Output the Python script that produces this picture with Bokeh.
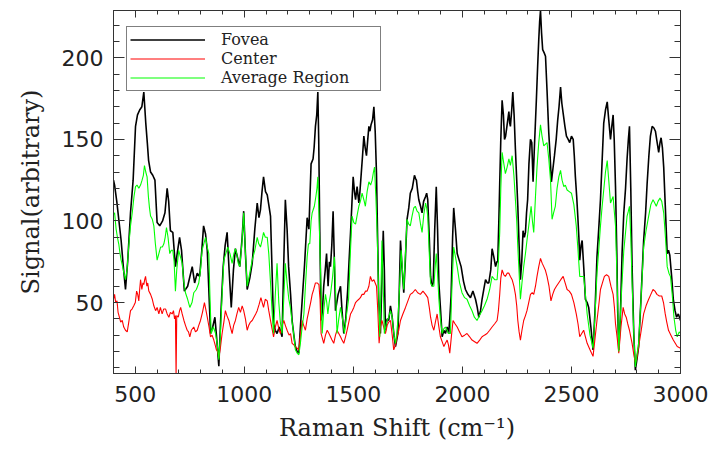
from bokeh.plotting import figure
from bokeh.models import Legend, LegendItem, LinearAxis, FixedTicker, Range1d, CustomLabelingPolicy
from bokeh.embed import file_html
from bokeh.resources import INLINE

# ---------------- data ----------------
fovea_x = [400, 405, 415, 425, 435, 445, 455, 465, 478, 490, 501, 510, 520, 530, 539, 548, 555, 561, 570, 580,
           590, 600, 612, 625, 636, 646, 653, 661, 672, 684, 692, 703, 712, 725, 740, 761, 772, 784, 795, 805,
           813, 822, 830, 845, 855, 865, 872, 883, 893, 903, 912, 921, 930, 940, 950, 959, 968, 979, 990, 997,
           1005, 1013, 1025, 1036, 1048, 1059, 1067, 1074, 1081, 1088, 1097, 1105, 1112, 1120, 1127, 1134, 1142,
           1150, 1160, 1173, 1180, 1188, 1196, 1203, 1212, 1219, 1227, 1234, 1242, 1250, 1257, 1265, 1276, 1288,
           1296, 1306, 1315, 1320, 1326, 1332, 1337, 1341, 1346, 1352, 1358, 1364, 1371, 1377, 1384, 1390, 1395,
           1401, 1407, 1412, 1418, 1430, 1441, 1448, 1456, 1465, 1474, 1480, 1487, 1493, 1499, 1505, 1510, 1517,
           1525, 1530, 1536, 1542, 1548, 1554, 1560, 1566, 1571, 1576, 1581, 1588, 1594, 1600, 1606, 1611, 1616,
           1624, 1630, 1637, 1642, 1647, 1655, 1662, 1670, 1678, 1686, 1693, 1704, 1710, 1716, 1723, 1731, 1738,
           1746, 1754, 1761, 1770, 1780, 1785, 1789, 1795, 1800, 1808, 1815, 1822, 1831, 1836, 1841, 1848, 1854,
           1860, 1866, 1873, 1880, 1886, 1892, 1900, 1907, 1915, 1922, 1930, 1937, 1942, 1948, 1955, 1960, 1968,
           1976, 1985, 1994, 2005, 2014, 2025, 2037, 2048, 2060, 2068, 2075, 2083, 2090, 2098, 2106, 2114, 2121,
           2130, 2136, 2144, 2152, 2158, 2162, 2167, 2171, 2176, 2182, 2188, 2193, 2198, 2202, 2208, 2213, 2217,
           2220, 2226, 2231, 2237, 2243, 2249, 2254, 2260, 2266, 2272, 2278, 2284, 2289, 2294, 2299, 2305, 2312,
           2318, 2324, 2330, 2339, 2345, 2350, 2354, 2358, 2363, 2368, 2375, 2381, 2388, 2396, 2402, 2408, 2415,
           2422, 2430, 2437, 2443, 2450, 2456, 2462, 2470, 2477, 2485, 2492, 2500, 2508, 2513, 2518, 2524, 2529,
           2534, 2538, 2544, 2549, 2557, 2564, 2572, 2579, 2589, 2599, 2608, 2617, 2625, 2633, 2640, 2648, 2656,
           2664, 2671, 2679, 2685, 2691, 2696, 2702, 2708, 2712, 2717, 2724, 2732, 2740, 2748, 2755, 2761, 2766,
           2772, 2778, 2786, 2793, 2800, 2808, 2818, 2831, 2840, 2847, 2855, 2862, 2870, 2878, 2885, 2893, 2900,
           2906, 2911, 2917, 2923, 2930, 2939, 2945, 2951, 2960, 2967, 2975, 2982, 2990, 3000]
fovea_y = [125, 122, 112, 100, 88, 72, 58, 75, 105, 125, 158, 165, 168, 170, 179, 160, 148, 137, 130, 128,
           125, 99, 97, 100, 105, 120, 112, 94, 93, 72, 80, 90, 82, 57, 60, 72, 62, 68, 66, 82,
           97, 92, 82, 31, 35, 41, 30, 11, 45, 72, 85, 93, 70, 47, 70, 83, 78, 72, 90, 106,
           80, 58, 65, 74, 95, 111, 102, 107, 118, 127, 118, 116, 110, 103, 70, 37, 33,
           31, 35, 29, 70, 113, 95, 72, 55, 39, 30, 23, 20, 19, 35, 51, 73, 102,
           95, 135, 138, 145, 158, 165, 179, 150, 93, 39, 45, 60, 70, 80, 60, 75, 72,
           85, 106, 80, 45, 55, 60, 45, 31, 40, 58, 75, 93, 110, 127, 118, 113, 121,
           111, 118, 129, 140, 152, 145, 140, 150, 158, 155, 159, 162, 170, 155, 129, 90, 52,
           31, 60, 94, 70, 33, 40, 39, 48, 41, 30, 23, 31, 55, 88, 72, 56, 75,
           101, 108, 117, 120, 128, 126, 125, 118, 113, 109, 105, 112, 115, 117, 113, 90, 66,
           60, 62, 95, 121, 95, 62, 45, 29, 33, 31, 35, 31, 40, 54, 90, 108, 95,
           80, 76, 72, 63, 58, 55, 53, 57, 52, 47, 41, 45, 52, 58, 64, 62, 62,
           70, 83, 78, 72, 75, 75, 100, 123, 150, 174, 165, 150, 152, 156, 162, 167, 160,
           158, 168, 179, 165, 144, 125, 109, 85, 64, 75, 94, 90, 93, 105, 113, 135, 150,
           148, 124, 145, 174, 195, 211, 222, 229, 215, 205, 203, 201, 180, 154, 140, 124, 132,
           140, 150, 162, 170, 182, 172, 166, 158, 152, 150, 148, 152, 150, 140, 127, 115, 103,
           90, 76, 85, 88, 70, 52, 50, 47, 35, 21, 45, 78, 95, 113, 135, 160, 168,
           173, 162, 150, 158, 165, 150, 121, 80, 45, 21, 40, 80, 105, 120, 138, 150, 158,
           120, 72, 30, 8.5, 15, 23, 50, 88, 105, 123, 140, 152, 158, 157, 155, 148, 142,
           148, 151, 145, 133, 110, 80, 82, 79, 65, 52, 45, 41, 43, 39]

center_x = [400, 405, 410, 416, 421, 427, 433, 440, 447, 455, 463, 470, 478, 485, 493, 500, 506, 511, 516, 520,
            524, 530, 535, 539, 543, 547, 553, 557, 562, 570, 578, 585, 593, 600, 608, 615, 623, 630, 639, 646,
            654, 661, 669, 675, 680, 684, 687, 690, 697, 703, 708, 715, 723, 730, 738, 744, 750, 757, 768, 776,
            784, 791, 799, 808, 817, 823, 830, 838, 845, 852, 860, 866, 872, 878, 883, 890, 898, 906, 913, 920,
            929, 936, 944, 951, 959, 966, 974, 982, 990, 997, 1005, 1013, 1020, 1028, 1036, 1044, 1052, 1059,
            1068, 1076, 1082, 1088, 1096, 1105, 1112, 1120, 1127, 1134, 1142, 1150, 1158, 1165, 1173, 1181, 1188,
            1196, 1205, 1212, 1219, 1227, 1234, 1242, 1250, 1257, 1265, 1272, 1280, 1288, 1296, 1304, 1311, 1318,
            1326, 1334, 1342, 1347, 1352, 1358, 1364, 1372, 1380, 1388, 1395, 1402, 1410, 1418, 1425, 1433, 1441,
            1448, 1456, 1464, 1471, 1479, 1487, 1495, 1502, 1510, 1517, 1525, 1532, 1540, 1548, 1556, 1563, 1571,
            1578, 1586, 1594, 1600, 1606, 1612, 1618, 1624, 1631, 1639, 1647, 1655, 1662, 1670, 1678, 1685, 1693,
            1700, 1708, 1716, 1727, 1739, 1750, 1761, 1772, 1784, 1795, 1807, 1819, 1831, 1841, 1848, 1854, 1861,
            1869, 1876, 1884, 1891, 1899, 1907, 1915, 1922, 1930, 1936, 1942, 1950, 1957, 1966, 1976, 1987, 1998,
            2010, 2021, 2033, 2044, 2056, 2067, 2079, 2090, 2101, 2113, 2125, 2136, 2148, 2159, 2165, 2171, 2176,
            2182, 2190, 2197, 2205, 2213, 2220, 2228, 2236, 2243, 2249, 2254, 2260, 2266, 2273, 2281, 2289, 2296,
            2304, 2312, 2320, 2327, 2335, 2342, 2350, 2358, 2366, 2373, 2380, 2388, 2397, 2406, 2414, 2422, 2431,
            2441, 2451, 2462, 2471, 2480, 2490, 2500, 2511, 2522, 2530, 2538, 2547, 2556, 2564, 2572, 2585, 2599,
            2608, 2617, 2625, 2633, 2642, 2651, 2661, 2671, 2681, 2691, 2697, 2702, 2710, 2717, 2727, 2737, 2744,
            2751, 2758, 2766, 2772, 2778, 2786, 2793, 2800, 2808, 2820, 2831, 2842, 2854, 2864, 2874, 2883, 2892,
            2903, 2914, 2922, 2930, 2937, 2945, 2956, 2967, 2976, 2985, 3000]
center_y = [52, 55, 50, 51, 44, 41, 38, 39, 35, 33, 32, 38, 45, 46, 48, 50, 57, 55, 51, 58,
            64, 58, 62, 61, 64, 66, 60, 62, 57, 55, 52, 48, 45, 47, 43, 47, 43, 46, 46, 43,
            41, 44, 43, 45, 40, 42, 5, 42, 41, 45, 47, 43, 39, 36, 33, 32, 29, 33, 35, 32,
            33, 36, 39, 44, 50, 46, 41, 35, 29, 30, 27, 24, 21, 20, 16, 22, 31, 38, 45, 42,
            39, 35, 31, 36, 39, 43, 47, 44, 48, 45, 40, 33, 36, 38, 39, 41, 43, 45,
            49, 53, 50, 47, 52, 51, 45, 39, 34, 29, 35, 39, 34, 31, 36, 39, 36,
            33, 30, 31, 25, 24, 23, 22, 21, 30, 39, 36, 33, 40, 45, 50, 55, 58,
            62, 62, 61, 52, 31, 28, 25, 30, 33, 31, 29, 27, 25, 30, 33, 31, 29,
            27, 25, 29, 33, 38, 43, 45, 47, 50, 51, 52, 53, 55, 55, 57, 57, 60,
            66, 63, 64, 62, 60, 45, 25, 35, 39, 35, 31, 36, 38, 39, 30, 21, 24,
            29, 33, 39, 43, 47, 51, 55, 56, 58, 56, 55, 57, 55, 53, 47, 41, 36,
            33, 38, 43, 36, 29, 26, 23, 25, 27, 24, 19, 30, 39, 37, 35, 32, 29,
            30, 31, 29, 27, 26, 25, 27, 29, 30, 31, 33, 35, 37, 39, 45, 55, 65,
            70, 67, 66, 68, 68, 66, 64, 60, 55, 48, 39, 32, 27, 33, 39, 42, 45,
            50, 55, 56, 55, 60, 66, 72, 77, 74, 72, 70, 66, 60, 51, 55, 58, 60,
            62, 64, 66, 62, 58, 57, 55, 50, 43, 37, 29, 31, 33, 29, 25, 21, 17,
            28, 39, 48, 58, 62, 66, 67, 66, 60, 55, 47, 37, 28, 19, 35, 47, 43,
            41, 37, 33, 29, 25, 18, 13, 16, 23, 33, 43, 48, 52, 55, 58, 57, 55,
            54, 54, 50, 43, 38, 33, 30, 27, 25, 23, 22]

average_x = [400, 405, 412, 418, 424, 430, 435, 442, 448, 455, 462, 470, 478, 486, 494, 501, 508, 516, 524, 531,
             537, 542, 548, 554, 560, 565, 570, 578, 585, 592, 600, 608, 616, 624, 631, 637, 643, 650, 658, 665,
             672, 678, 684, 690, 699, 707, 715, 722, 730, 740, 750, 760, 768, 780, 791, 799, 806, 814, 822, 830,
             837, 842, 848, 858, 868, 876, 883, 890, 898, 906, 915, 924, 934, 944, 952, 959, 965, 972, 979, 988,
             997, 1005, 1013, 1025, 1036, 1048, 1059, 1066, 1074, 1081, 1088, 1096, 1105, 1112, 1120, 1127, 1134,
             1142, 1150, 1158, 1165, 1173, 1180, 1188, 1196, 1204, 1211, 1219, 1227, 1234, 1242, 1250, 1257, 1265,
             1273, 1280, 1288, 1294, 1300, 1306, 1311, 1316, 1321, 1328, 1333, 1337, 1343, 1349, 1357, 1364, 1372,
             1378, 1383, 1389, 1395, 1404, 1413, 1419, 1425, 1433, 1441, 1450, 1459, 1468, 1478, 1486, 1494, 1502,
             1510, 1518, 1525, 1532, 1540, 1548, 1555, 1563, 1571, 1579, 1586, 1592, 1597, 1603, 1609, 1615, 1621,
             1626, 1631, 1637, 1642, 1652, 1662, 1670, 1678, 1686, 1693, 1698, 1704, 1712, 1719, 1725, 1731, 1738,
             1746, 1754, 1761, 1769, 1777, 1784, 1792, 1800, 1808, 1815, 1823, 1831, 1836, 1841, 1848, 1854, 1862,
             1869, 1874, 1880, 1886, 1892, 1899, 1907, 1915, 1922, 1930, 1937, 1945, 1952, 1960, 1968, 1976, 1987,
             1998, 2010, 2021, 2033, 2044, 2055, 2067, 2078, 2090, 2101, 2113, 2125, 2136, 2148, 2159, 2165, 2171,
             2176, 2182, 2190, 2197, 2205, 2213, 2220, 2228, 2236, 2243, 2249, 2254, 2260, 2266, 2273, 2281, 2289,
             2296, 2305, 2315, 2321, 2327, 2335, 2342, 2350, 2358, 2365, 2373, 2380, 2388, 2396, 2404, 2411, 2418,
             2426, 2434, 2442, 2450, 2457, 2465, 2472, 2480, 2490, 2500, 2511, 2522, 2530, 2538, 2547, 2556, 2564,
             2572, 2585, 2599, 2608, 2617, 2625, 2633, 2640, 2648, 2656, 2664, 2671, 2679, 2685, 2691, 2697, 2702,
             2710, 2717, 2727, 2740, 2748, 2755, 2761, 2766, 2772, 2778, 2786, 2793, 2800, 2808, 2820, 2831, 2842,
             2854, 2864, 2874, 2882, 2889, 2897, 2906, 2914, 2923, 2931, 2939, 2947, 2954, 2962, 2970, 2978, 2985,
             2994, 3000]
average_y = [104, 105, 95, 90, 86, 80, 76, 72, 68, 64, 70, 85, 97, 105, 115, 121, 122, 120, 122, 125,
             128, 134, 130, 127, 115, 108, 103, 101, 97, 86, 76, 80, 84, 84, 86, 90, 96, 90, 80, 82,
             82, 75, 57, 70, 82, 78, 74, 63, 56, 52, 47, 50, 56, 58, 62, 70, 82, 86, 90, 84,
             80, 55, 31, 35, 31, 24, 15, 30, 55, 76, 80, 84, 80, 74, 80, 83, 80, 74, 72, 85,
             105, 80, 60, 68, 76, 82, 90, 86, 84, 88, 93, 90, 90, 80, 62, 45, 31,
             55, 74, 50, 38, 31, 50, 74, 62, 52, 47, 38, 30, 21, 19, 18, 25, 35,
             43, 60, 78, 86, 86, 100, 105, 107, 109, 115, 120, 127, 100, 72, 31, 45, 55,
             50, 43, 50, 55, 65, 78, 55, 31, 40, 47, 40, 31, 42, 52, 80, 103, 99,
             98, 104, 109, 112, 117, 113, 109, 118, 124, 122, 125, 130, 133, 115, 93, 60, 29,
             55, 88, 60, 31, 38, 41, 45, 41, 30, 25, 30, 39, 60, 82, 70, 58, 78,
             101, 98, 97, 103, 108, 109, 106, 105, 98, 93, 104, 111, 108, 103, 80, 62, 60,
             60, 70, 80, 68, 52, 40, 31, 34, 35, 33, 31, 31, 60, 84, 78, 72, 62,
             56, 53, 52, 48, 45, 41, 39, 42, 45, 48, 52, 58, 66, 64, 64, 75, 93,
             120, 142, 135, 129, 133, 138, 134, 140, 128, 113, 100, 84, 68, 52, 62, 72, 80,
             88, 98, 109, 100, 93, 115, 133, 148, 159, 152, 146, 147, 148, 138, 125, 101, 105,
             109, 120, 127, 131, 125, 121, 122, 119, 118, 117, 110, 97, 82, 66, 66, 66, 55,
             43, 30, 22, 42, 68, 82, 97, 108, 119, 130, 137, 125, 111, 113, 115, 105, 97,
             60, 20, 50, 82, 93, 103, 106, 109, 90, 62, 30, 10.5, 18, 25, 55, 84, 94,
             103, 110, 113, 111, 109, 112, 114, 112, 105, 90, 72, 68, 66, 55, 41, 33, 29,
             32, 31]

series_names = ["Fovea", "Center", "Average Region"]
x_tick_values = [500, 1000, 1500, 2000, 2500, 3000]
y_tick_values = [50, 100, 150, 200]

# ---------------- figure ----------------
AXIS_COLOR = "#333333"
TICK_FONT = "DejaVu Sans"
LABEL_FONT = "DejaVu Serif"

p = figure(width=712, height=449, output_backend="svg", toolbar_location=None,
           x_range=Range1d(400, 3000), y_range=Range1d(6.5, 229),
           min_border_left=113, min_border_right=32, min_border_top=10, min_border_bottom=76,
           x_axis_label="Raman Shift (cm\u207b\u00b9)", y_axis_label="Signal(arbitrary)")
p.grid.visible = False
p.outline_line_color = AXIS_COLOR
p.background_fill_color = "white"
p.border_fill_color = "white"

xt = FixedTicker(ticks=x_tick_values, minor_ticks=list(range(400, 3001, 100)))
yt = FixedTicker(ticks=y_tick_values, minor_ticks=list(range(10, 230, 10)))


def style_axis(ax, is_x, labels=True):
    ax.axis_line_color = AXIS_COLOR
    ax.major_tick_line_color = AXIS_COLOR
    ax.minor_tick_line_color = AXIS_COLOR
    ax.major_tick_out = 0
    ax.minor_tick_out = 0
    ax.major_tick_in = 7 if is_x else 11
    ax.minor_tick_in = 4 if is_x else 6
    ax.major_label_text_font = TICK_FONT
    ax.major_label_text_color = "#222222"
    if labels:
        ax.major_label_text_font_size = "22px"
        ax.major_label_standoff = 12 if is_x else 10
        ax.axis_label_text_font = LABEL_FONT
        ax.axis_label_text_font_size = "24px"
        ax.axis_label_text_font_style = "normal"
        ax.axis_label_text_color = "#222222"
        ax.axis_label_standoff = 9 if is_x else 14
    else:
        # tick marks only: the labeling policy selects no labels at all
        ax.major_label_text_font_size = "8px"
        ax.major_label_standoff = 0
        ax.major_label_policy = CustomLabelingPolicy(code="return []")


p.xaxis.ticker = xt
p.yaxis.ticker = yt
style_axis(p.xaxis[0], True)
style_axis(p.yaxis[0], False)

top_ax = LinearAxis(ticker=xt)
style_axis(top_ax, True, labels=False)
p.add_layout(top_ax, "above")
right_ax = LinearAxis(ticker=yt)
style_axis(right_ax, False, labels=False)
p.add_layout(right_ax, "right")

r_fovea = p.line(fovea_x, fovea_y, line_color="black", line_width=1.6)
r_center = p.line(center_x, center_y, line_color="#ff0000", line_width=1.1)
r_avg = p.line(average_x, average_y, line_color="#00ff00", line_width=1.1)

legend = Legend(items=[LegendItem(label=series_names[0], renderers=[r_fovea]),
                       LegendItem(label=series_names[1], renderers=[r_center]),
                       LegendItem(label=series_names[2], renderers=[r_avg])],
                location=(13, 282), margin=0, padding=3, spacing=0,
                glyph_width=75, glyph_height=17, label_height=17, label_width=156, label_standoff=16,
                label_text_font=LABEL_FONT, label_text_font_size="16px",
                label_text_color="#222222",
                border_line_color="black", border_line_width=1, background_fill_alpha=1.0)
p.add_layout(legend)

open("out.html", "w").write(file_html(p, INLINE))
